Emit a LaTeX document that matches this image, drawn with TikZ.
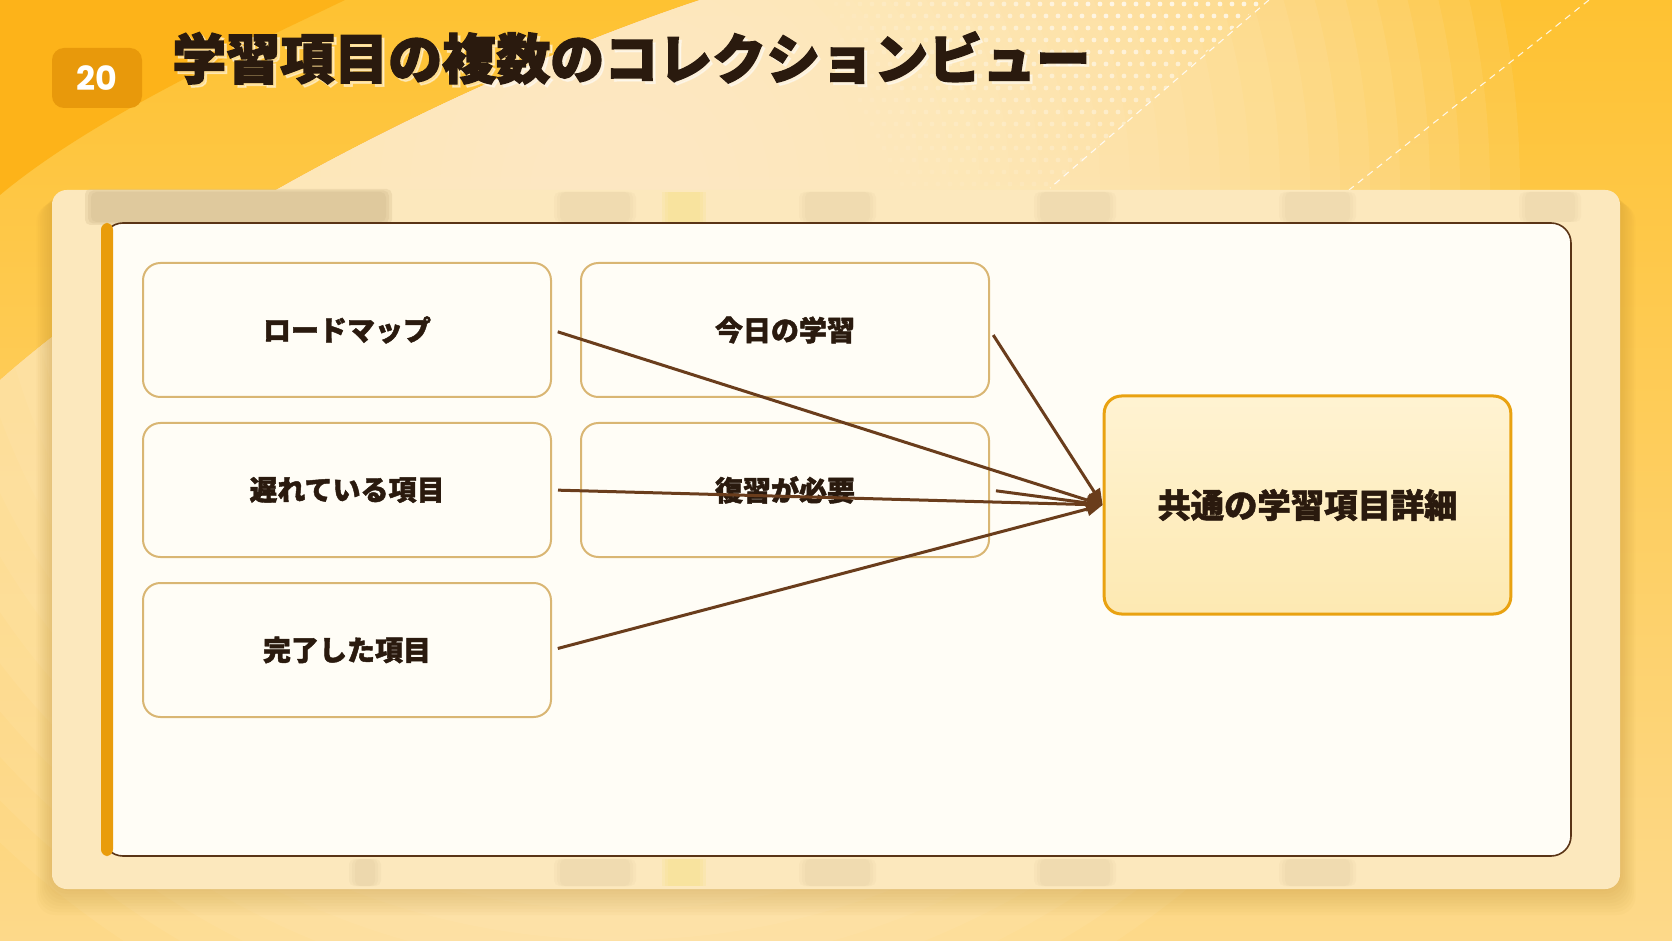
\documentclass[tikz,border=0pt]{standalone}
\usepackage{fontspec}
\setmainfont{Noto Sans CJK JP}
\newfontfamily\pop{Poppins}
\newfontfamily\jptitle{Noto Sans CJK JP}[BoldFeatures={FakeBold=2.6}]
\newfontfamily\jpheavy{Noto Sans CJK JP}[BoldFeatures={FakeBold=1.6}]
\usetikzlibrary{arrows.meta,calc}
\definecolor{bgtop}{HTML}{FEC232}
\definecolor{bgbottom}{HTML}{FDD98A}
\definecolor{bgorange}{HTML}{FDB319}
\definecolor{bgcream}{HTML}{FDF0CD}
\definecolor{panelout}{HTML}{FCE8BD}
\definecolor{panelin}{HTML}{FFFDF6}
\definecolor{panelborder}{HTML}{5A3416}
\definecolor{barorange}{HTML}{E99C0B}
\definecolor{boxborder}{HTML}{D9B673}
\definecolor{textdark}{HTML}{2A1A0E}
\definecolor{tgtborder}{HTML}{E9A211}
\definecolor{tgttop}{HTML}{FFF3D2}
\definecolor{tgtbottom}{HTML}{FDE9B2}
\definecolor{arrowc}{HTML}{6A3D1C}
\definecolor{badgec}{HTML}{E8990B}
\definecolor{blurtan}{HTML}{D2BB8E}
\definecolor{bluryellow}{HTML}{F6E07E}
\definecolor{shadowc}{HTML}{B8862A}
\tikzset{
  itembox/.style={draw=boxborder, line width=1.5pt, fill=panelin, rounded corners=13pt,
    minimum width=306pt, minimum height=100.5pt, inner sep=0pt, text=textdark,
    font=\jpheavy\bfseries\fontsize{21pt}{25pt}\selectfont},
  targetbox/.style={draw=tgtborder, line width=2.25pt, top color=tgttop, bottom color=tgtbottom,
    rounded corners=13pt, minimum width=305pt, minimum height=163.5pt, inner sep=0pt, text=textdark,
    font=\jpheavy\bfseries\fontsize{25pt}{29pt}\selectfont},
  conn/.style={draw=arrowc, line width=2.25pt, -{Triangle[length=12pt,width=10pt]}, shorten <=4.5pt},
  badgebox/.style={fill=badgec, rounded corners=9pt, minimum width=67.5pt, minimum height=45pt,
    inner sep=0pt, text=white, font=\pop\bfseries\fontsize{25pt}{27pt}\selectfont},
  titletext/.style={anchor=west, inner sep=0pt, text=textdark,
    font=\jptitle\bfseries\fontsize{40.5pt}{44pt}\selectfont},
  softblock/.style={fill=blurtan, rounded corners=4pt}
}
\begin{document}
\begin{tikzpicture}[x=0.75pt,y=-0.75pt]
\useasboundingbox (0,0) rectangle (1672,941);
% background
\shade[top color=bgtop, bottom color=bgbottom] (0,0) rectangle (1672,941);
\begin{scope}
  \clip (700,0) .. controls (460,80) and (170,230) .. (0,380) -- (0,941) -- (1672,941) -- (1672,0) -- cycle;
  \foreach \r in {900,870,...,90} {
    \fill[bgcream, opacity=0.1] (620,190) circle (\r);
  }
\end{scope}
\fill[bgorange] (0,0) -- (345,0) .. controls (230,55) and (90,120) .. (0,195) -- cycle;
% halftone dots
\begin{scope}
  \clip (800,0) -- (1265,0) -- (1048,192) -- (900,192) -- cycle;
  \foreach \j in {0,...,16} {
    \foreach \i in {0,...,38} {
      \pgfmathsetmacro{\xx}{800+12*\i+6*mod(\j,2)}
      \pgfmathsetmacro{\yy}{4+12*\j}
      \pgfmathsetmacro{\op}{max(0,min(0.75,(\xx-820)/380))*(1-\yy/230)}
      \fill[white, opacity=\op] (\xx,\yy) circle (2.4);
    }
  }
\end{scope}
% dashed white lines
\draw[white, line width=0.8pt, dash pattern=on 5pt off 4pt, opacity=0.85] (1269,0) -- (1050,188);
\draw[white, line width=0.8pt, dash pattern=on 5pt off 4pt, opacity=0.85] (1589,0) -- (1349,190);
% soft shadow of outer panel
\foreach \s in {2,5,...,26} {
  \fill[shadowc, opacity=0.035, rounded corners=14pt] (52-\s*0.6,190+\s*0.5) rectangle (1620+\s*0.6,889+\s);
}
% outer panel
\fill[panelout, rounded corners=11pt] (52,190) rectangle (1620,889);
% blurred screenshot hints
\foreach \e in {0,3,6} {
  \fill[softblock, opacity=0.3] (91-\e,192-\e/2) rectangle (386+\e,222+\e/2);
  \fill[softblock, opacity=0.09] (560-\e,192) rectangle (630+\e,222);
  \fill[softblock, opacity=0.09] (805-\e,192) rectangle (870+\e,222);
  \fill[softblock, opacity=0.09] (1040-\e,192) rectangle (1110+\e,222);
  \fill[softblock, opacity=0.09] (1285-\e,192) rectangle (1350+\e,222);
  \fill[softblock, opacity=0.09] (1525-\e,192) rectangle (1575+\e,222);
  \fill[softblock, opacity=0.09] (560-\e,859) rectangle (630+\e,886);
  \fill[softblock, opacity=0.09] (805-\e,859) rectangle (870+\e,886);
  \fill[softblock, opacity=0.09] (1040-\e,859) rectangle (1110+\e,886);
  \fill[softblock, opacity=0.09] (1285-\e,859) rectangle (1350+\e,886);
  \fill[softblock, opacity=0.12] (355-\e,859) rectangle (375+\e,886);
  \fill[bluryellow, opacity=0.2] (668-\e,192) rectangle (700+\e,222);
  \fill[bluryellow, opacity=0.2] (668-\e,859) rectangle (700+\e,886);
}
% inner panel
\draw[panelborder, line width=1.2pt, fill=panelin, rounded corners=15pt] (103,223) rectangle (1571,856);
\fill[barorange, rounded corners=5pt] (101,223) rectangle (113,856);
% badge and title
\node[badgebox] (num) at (97,78) {20};
\node[titletext, text=white, opacity=0.45] (titleshadow) at (175,61) {学習項目の複数のコレクションビュー};
\node[titletext] (title) at (172,58) {学習項目の複数のコレクションビュー};
% boxes
\node[itembox] (road) at (347,330) {ロードマップ};
\node[itembox] (late) at (347,490) {遅れている項目};
\node[itembox] (done) at (347,650) {完了した項目};
\node[itembox] (today) at (785,330) {今日の学習};
\node[itembox] (review) at (785,490) {復習が必要};
\node[targetbox] (t) at (1307.5,505) {共通の学習項目詳細};
% connectors
\draw[conn] (road.east) -- (t.west);
\draw[conn] (today.east) -- (t.west);
\draw[conn] (late.east) -- (t.west);
\draw[conn] (review.east) -- (t.west);
\draw[conn] (done.east) -- (t.west);
\end{tikzpicture}
\end{document}
